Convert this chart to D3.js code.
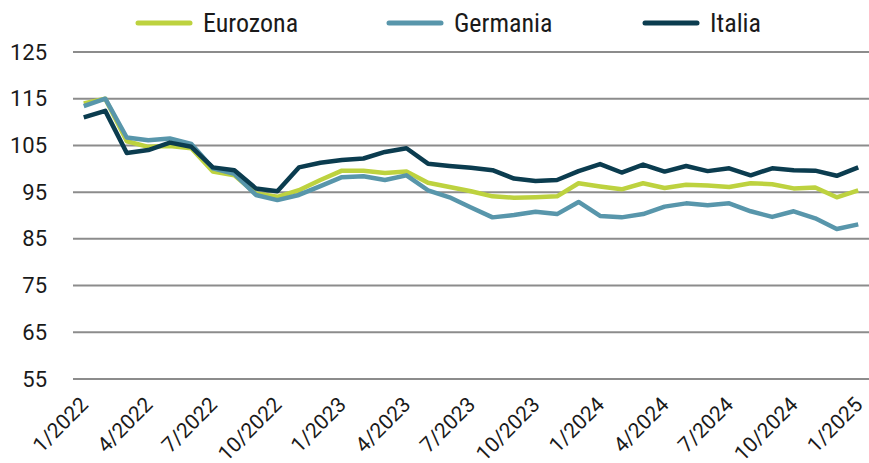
<!DOCTYPE html>
<html>
<head>
<meta charset="utf-8">
<script src="https://cdn.jsdelivr.net/npm/d3@7"></script>
<style>
  body { margin: 0; background: #fff; }
  svg { display: block; font-family: Roboto, "Liberation Sans", sans-serif; }
</style>
</head>
<body>
<main></main>
<script>
const width = 869;
const height = 463;

const months = [
  "1/2022", "2/2022", "3/2022", "4/2022", "5/2022", "6/2022", "7/2022", "8/2022", "9/2022", "10/2022", "11/2022", "12/2022",
  "1/2023", "2/2023", "3/2023", "4/2023", "5/2023", "6/2023", "7/2023", "8/2023", "9/2023", "10/2023", "11/2023", "12/2023",
  "1/2024", "2/2024", "3/2024", "4/2024", "5/2024", "6/2024", "7/2024", "8/2024", "9/2024", "10/2024", "11/2024", "12/2024",
  "1/2025",
];
const xTicks = ["1/2022", "4/2022", "7/2022", "10/2022", "1/2023", "4/2023", "7/2023", "10/2023", "1/2024", "4/2024", "7/2024", "10/2024", "1/2025"];
const yTicks = [55, 65, 75, 85, 95, 105, 115, 125];

const eurozona = [
  114.0, 115.0, 105.9, 104.7, 104.9, 104.4, 99.4, 98.6, 94.7, 94.0, 95.4, 97.6,
  99.6, 99.6, 99.1, 99.4, 97.0, 96.1, 95.2, 94.1, 93.8, 93.9, 94.1, 96.9,
  96.2, 95.6, 96.9, 95.9, 96.6, 96.4, 96.1, 96.9, 96.7, 95.8, 96.0, 93.9,
  95.4,
];
const germania = [
  113.4, 115.0, 106.7, 106.1, 106.5, 105.3, 100.1, 98.9, 94.4, 93.3, 94.4, 96.3,
  98.2, 98.4, 97.6, 98.6, 95.4, 93.9, 91.7, 89.6, 90.1, 90.8, 90.3, 92.9,
  89.9, 89.6, 90.3, 91.9, 92.6, 92.2, 92.6, 90.9, 89.7, 90.9, 89.4, 87.1,
  88.1,
];
const italia = [
  111.0, 112.4, 103.4, 104.0, 105.6, 104.7, 100.3, 99.7, 95.8, 95.2, 100.3, 101.3,
  101.9, 102.2, 103.6, 104.4, 101.1, 100.6, 100.2, 99.7, 97.9, 97.4, 97.6, 99.5,
  101.0, 99.2, 100.9, 99.4, 100.6, 99.5, 100.1, 98.6, 100.1, 99.7, 99.6, 98.5,
  100.3,
];

const series = [
  { name: "Eurozona", values: eurozona, color: "#bdd23f" },
  { name: "Germania", values: germania, color: "#5896ab" },
  { name: "Italia", values: italia, color: "#0b3c4f" },
];

const svg = d3
  .select("main")
  .append("svg")
  .attr("width", width)
  .attr("height", height);

const x = d3.scalePoint().domain(months).range([73, 869]).padding(0.5);
const y = d3.scaleLinear().domain([55, 125]).range([379, 52]);

// gridlines
svg
  .append("g")
  .selectAll("line")
  .data(yTicks)
  .enter()
  .append("line")
  .attr("x1", 73)
  .attr("x2", 869)
  .attr("y1", (d) => y(d))
  .attr("y2", (d) => y(d))
  .attr("stroke", "#8c8c8c")
  .attr("stroke-width", 2);

// y axis labels
const yAxis = svg
  .append("g")
  .attr("transform", "translate(47,0)")
  .call(d3.axisLeft(y).tickValues(yTicks).tickSize(0).tickPadding(0));
yAxis.select(".domain").remove();
yAxis
  .selectAll("text")
  .attr("font-family", "Roboto, sans-serif")
  .attr("font-size", 22)
  .attr("fill", "#1a1a1a");

// x axis labels, rotated like the original (some run off the bottom edge there too)
const xAxis = svg
  .append("g")
  .attr("transform", "translate(0,379)")
  .call(d3.axisBottom(x).tickValues(xTicks).tickSize(0));
xAxis.select(".domain").remove();
xAxis
  .selectAll("text")
  .attr("font-family", "Roboto, sans-serif")
  .attr("font-size", 21)
  .attr("fill", "#1a1a1a")
  .attr("text-anchor", "end")
  .attr("dy", 0)
  .attr("y", 0)
  .attr("transform", "translate(5,27) rotate(-45)");

// lines
const line = d3
  .line()
  .x((d, i) => x(months[i]))
  .y((d) => y(d));

svg
  .append("g")
  .selectAll("path")
  .data(series)
  .enter()
  .append("path")
  .attr("d", (d) => line(d.values))
  .attr("fill", "none")
  .attr("stroke", (d) => d.color)
  .attr("stroke-width", 4.5)
  .attr("stroke-linejoin", "round");

// legend
const legendX = [136, 387, 643];
const legend = svg
  .append("g")
  .selectAll("g")
  .data(series)
  .enter()
  .append("g")
  .attr("transform", (d, i) => `translate(${legendX[i]},23)`);

legend
  .append("line")
  .attr("x1", 2)
  .attr("x2", 54)
  .attr("stroke", (d) => d.color)
  .attr("stroke-width", 5)
  .attr("stroke-linecap", "round");

legend
  .append("text")
  .attr("x", 67)
  .attr("y", 8.7)
  .attr("font-family", '"Liberation Sans Narrow", "Roboto Condensed", Roboto, sans-serif')
  .attr("font-size", 26)
  .attr("fill", "#1a1a1a")
  .text((d) => d.name);
</script>
</body>
</html>
